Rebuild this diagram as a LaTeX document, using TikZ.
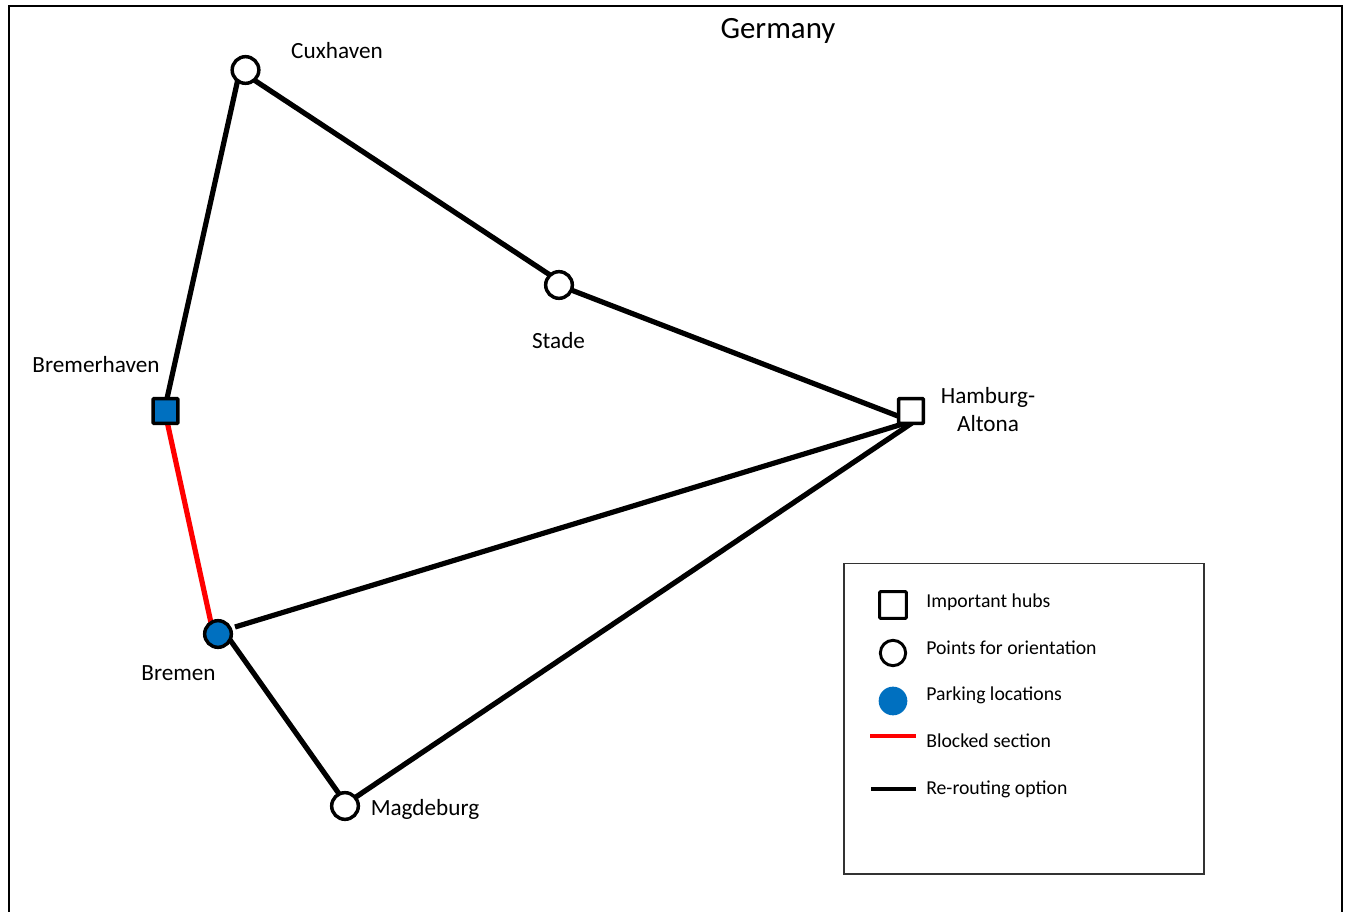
\documentclass[tikz,border=0pt]{standalone}
\usepackage{fontspec}
\usetikzlibrary{backgrounds}
\setmainfont{Carlito}
\definecolor{hubblue}{RGB}{0,112,192}
\tikzset{
 hub/.style={draw=black,line width=2.6pt,minimum size=18.5pt,inner sep=0pt,rectangle,rounded corners=0.6pt},
 pt/.style={draw=black,line width=2.6pt,minimum size=20pt,inner sep=0pt,circle,fill=white},
 road/.style={line width=3.9pt,black},
 lab/.style={font=\fontsize{17.4pt}{21pt}\selectfont,inner sep=0pt,align=center},
 leg/.style={font=\fontsize{14.8pt}{17pt}\selectfont,inner sep=0pt,anchor=west},
}
\begin{document}
\begin{tikzpicture}[x=0.75pt,y=-0.75pt]
\useasboundingbox (0,0) rectangle (1349,912);
\coordinate (fTL) at (9,6);
\coordinate (fTR) at (1342,6);
\coordinate (fBL) at (9,912);
\coordinate (fBR) at (1342,912);
\node[lab,font=\fontsize{23.2pt}{27pt}\selectfont] (title) at (778,30.5) {Germany};
\node[pt] (cux) at (245.5,70) {};
\node[pt] (sta) at (559,285) {};
\node[hub,fill=white] (ham) at (911,411) {};
\node[hub,fill=hubblue] (brh) at (165.5,411) {};
\node[pt,fill=hubblue] (bre) at (218,634) {};
\node[pt] (mag) at (345,806) {};
\begin{scope}[on background layer]
\fill[white] (0,0) rectangle (1349,912);
\draw[line width=2.1pt] (fBL) -- (fTL) -- (fTR) -- (fBR);
\draw[road] ([shift={(-1.5,1)}]brh.center) -- ([shift={(-6,2)}]cux.center);
\draw[road] ([shift={(2.5,6)}]cux.center) -- ([shift={(-6,-8)}]sta.center);
\draw[road] ([shift={(7,3)}]sta.center) -- ([shift={(-8,7)}]ham.center);
\draw[road] ([shift={(17,-7)}]bre.center) -- ([shift={(-5,12)}]ham.center);
\draw[road] ([shift={(8,-7)}]mag.center) -- ([shift={(1,12)}]ham.center);
\draw[road] ([shift={(10,3)}]bre.center) -- ([shift={(-3,-8)}]mag.center);
\draw[road,red] ([shift={(-0.5,1)}]brh.center) -- ([shift={(-5,-2)}]bre.center);
\end{scope}
\node[lab] (lcux) at (337,51) {Cuxhaven};
\node[lab] (lsta) at (558.5,341) {Stade};
\node[lab] (lbrh) at (96,365) {Bremerhaven};
\node[lab] (lham) at (988,410) {Hamburg-\\Altona};
\node[lab] (lbre) at (178.5,673.5) {Bremen};
\node[lab] (lmag) at (425,809) {Magdeburg};
\node[draw=black!80,line width=1pt,minimum width=270pt,minimum height=233pt,inner sep=0pt] (box) at (1024,718.5) {};
\node[hub,line width=2.2pt,minimum size=20pt] (k1) at (893,605) {};
\node[pt,line width=2.2pt,minimum size=19pt] (k2) at (893,653) {};
\node[circle,fill=hubblue,minimum size=21.5pt,inner sep=0pt] (k3) at (893,701) {};
\coordinate (k4a) at (870,736);\coordinate (k4b) at (916,736);
\coordinate (k5a) at (871,789);\coordinate (k5b) at (916,789);
\draw[red,line width=2.3pt] (k4a) -- (k4b);
\draw[black,line width=2.3pt] (k5a) -- (k5b);
\node[leg] (t1) at (926,602) {Important hubs};
\node[leg] (t2) at (926,648) {Points for orientation};
\node[leg] (t3) at (926,695) {Parking locations};
\node[leg] (t4) at (926,741) {Blocked section};
\node[leg] (t5) at (926,789) {Re-routing option};
\end{tikzpicture}
\end{document}
